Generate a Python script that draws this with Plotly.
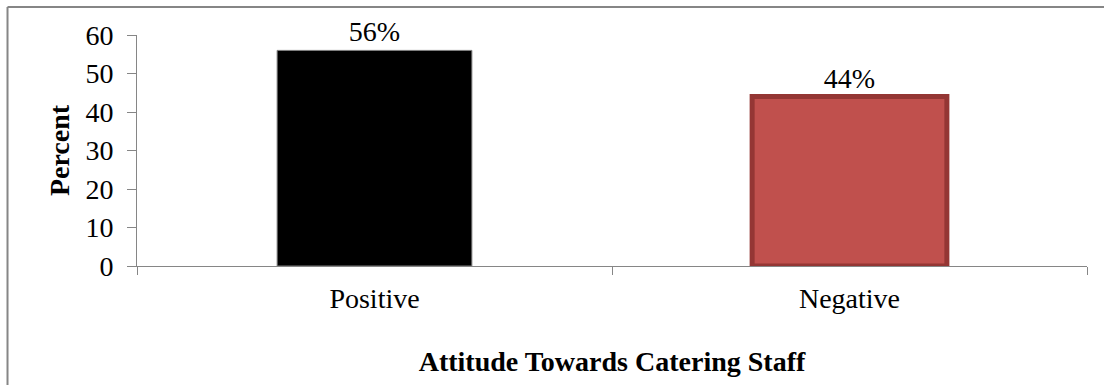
import plotly.graph_objects as go

# Survey result: attitude towards catering staff
categories = ["Positive", "Negative"]
percent = [56, 44]
bar_colors = ["#000000", "#C0504D"]
edge_colors = ["#7F7F7F", "#943634"]
edge_widths = [1, 5]
y_ticks = [0, 10, 20, 30, 40, 50, 60]

serif = "Liberation Serif, Times New Roman, serif"
axis_gray = "#868686"
fs = 28

fig = go.Figure(
    go.Bar(
        x=categories,
        y=percent,
        width=0.41,
        marker=dict(color=bar_colors, line=dict(color=edge_colors, width=edge_widths)),
        text=[f"{v}%" for v in percent],
        textposition="outside",
        textfont=dict(family=serif, size=fs, color="black"),
        cliponaxis=False,
    )
)

# Frame around the chart (left and top edges fall inside the page)
fx0, fy0 = -0.1363, 1.121
fig.add_shape(type="line", xref="paper", yref="paper", x0=fx0, x1=fx0, y0=-0.6, y1=fy0,
              line=dict(color=axis_gray, width=2))
fig.add_shape(type="line", xref="paper", yref="paper", x0=fx0, x1=1.2, y0=fy0, y1=fy0,
              line=dict(color=axis_gray, width=2))

fig.update_layout(
    width=1104,
    height=385,
    margin=dict(l=137, r=17, t=35, b=119),
    paper_bgcolor="white",
    plot_bgcolor="white",
    showlegend=False,
    font=dict(family=serif, size=fs, color="black"),
    xaxis=dict(
        range=[-0.5, 1.5],
        showline=True,
        linecolor=axis_gray,
        linewidth=1,
        ticks="outside",
        tickson="boundaries",
        ticklen=8,
        tickcolor=axis_gray,
        ticklabelstandoff=7,
        tickfont=dict(family=serif, size=fs, color="black"),
        title=dict(text="<b>Attitude Towards Catering Staff</b>",
                   font=dict(family=serif, size=fs, color="black"), standoff=38),
        showgrid=False,
    ),
    yaxis=dict(
        range=[0, 60],
        tickvals=y_ticks,
        showline=True,
        linecolor=axis_gray,
        linewidth=1,
        ticks="outside",
        ticklen=9,
        tickcolor=axis_gray,
        ticklabelstandoff=8,
        tickfont=dict(family=serif, size=fs, color="black"),
        title=dict(text="<b>Percent</b>", font=dict(family=serif, size=fs, color="black"),
                   standoff=7),
        showgrid=False,
        zeroline=False,
    ),
)

fig.write_html("out.html")
